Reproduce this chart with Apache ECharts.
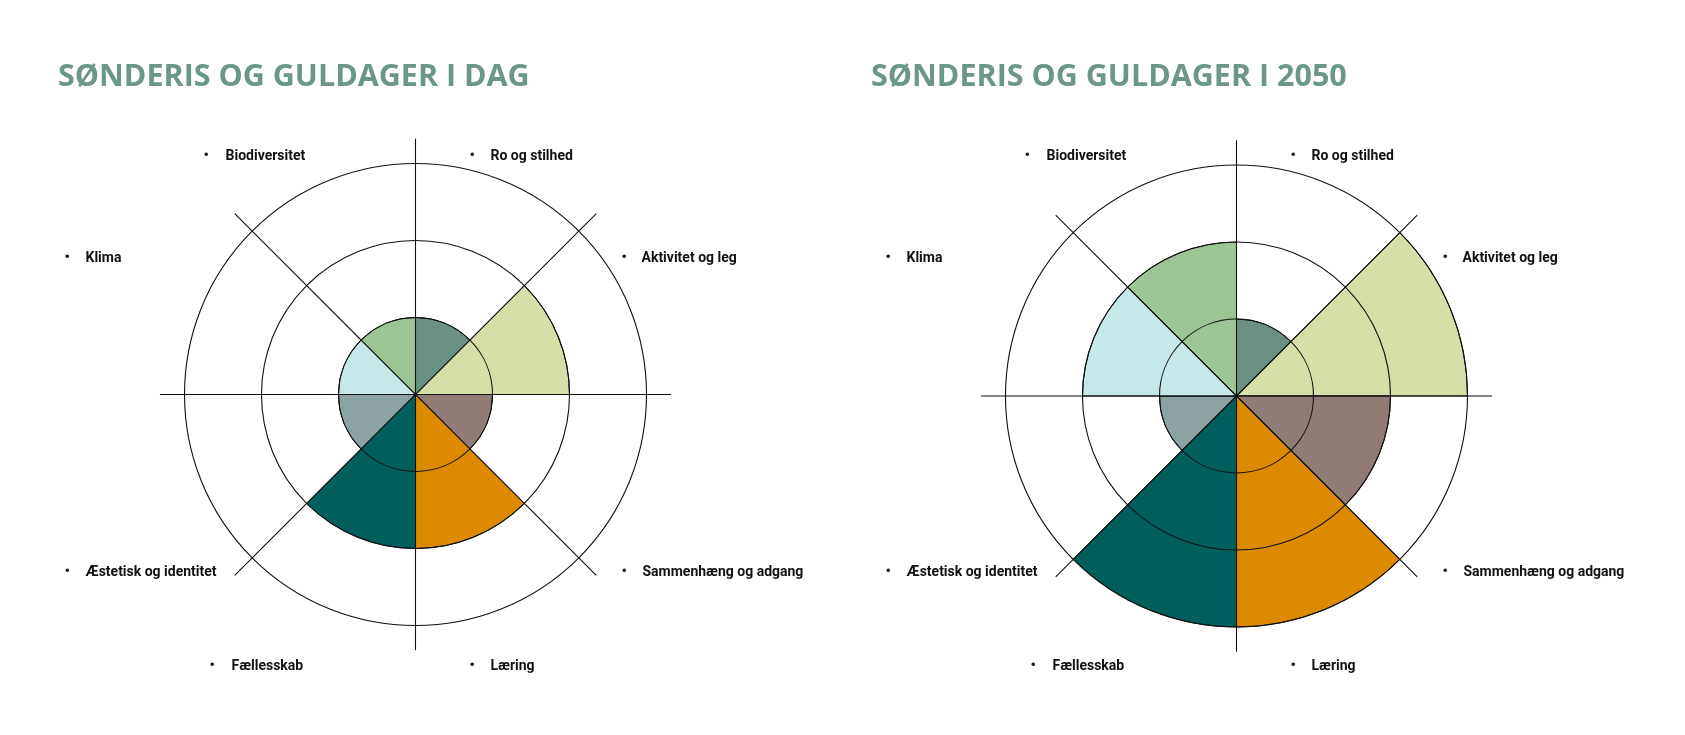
<!DOCTYPE html>
<html lang="da">
<head>
<meta charset="utf-8">
<title>Sønderis og Guldager</title>
<script src="https://cdn.jsdelivr.net/npm/echarts@6/dist/echarts.min.js"></script>
<style>
  html, body { margin: 0; padding: 0; background: #fff; }
  #chart { width: 1685px; height: 735px; }
</style>
</head>
<body>
<div id="chart"></div>
<script>
/* ---- data ---- */
const categories = ["Ro og stilhed", "Aktivitet og leg", "Sammenhæng og adgang", "Læring",
                    "Fællesskab", "Æstetisk og identitet", "Klima", "Biodiversitet"];
const valuesToday = [1, 2, 1, 2, 2, 1, 1, 1];
const values2050  = [1, 3, 2, 3, 3, 1, 2, 2];
const ringMax = 3;
const titles = ["SØNDERIS OG GULDAGER I DAG", "SØNDERIS OG GULDAGER I 2050"];

/* ---- styles / layout ---- */
const sectorColors = ["#6a9183", "#d7dfa9", "#907c74", "#dc8a00",
                      "#005e5c", "#8ba3a3", "#c5e8e8", "#9bc694"];
const lineColor = "#111";
const unitPx = 77;                // px per ring
const spokeUnits = 3.32;          // spokes run a bit past outer ring
const labelRowY = 396;            // both label sets share the same rows
const charts = [
  { cx: 415.5, cy: 394.5, titleX: 58, values: valuesToday, title: titles[0] },
  { cx: 1236.5, cy: 396, titleX: 871, values: values2050, title: titles[1] },
];
// label offsets from the chart centre: [bulletDx, textDx, dy]
const labelOffsets = [
  [54, 75, -240], [206, 226, -138], [206, 227, 176], [54, 75, 270],
  [-206, -184, 270], [-351, -330, 176], [-351, -330, -138], [-212, -190, -240],
];

const polar = [], angleAxis = [], radiusAxis = [], series = [], graphic = [];

charts.forEach((c, k) => {
  const iBar = k * 2, iSpoke = k * 2 + 1;
  polar.push({ center: [c.cx, c.cy], radius: unitPx * ringMax });
  polar.push({ center: [c.cx, c.cy], radius: unitPx * spokeUnits });

  angleAxis.push({
    polarIndex: iBar, type: "category", data: categories, startAngle: 90, clockwise: true,
    axisLine: { show: false }, axisTick: { show: false }, axisLabel: { show: false },
    splitLine: { show: false },
  });
  angleAxis.push({
    polarIndex: iSpoke, type: "category", data: categories, startAngle: 90, clockwise: true, z: 10,
    axisLine: { show: false }, axisTick: { show: false }, axisLabel: { show: false },
    splitLine: { show: true, lineStyle: { color: lineColor, width: 1.1 } },
  });
  radiusAxis.push({
    polarIndex: iBar, type: "value", min: 0, max: ringMax, interval: 1, z: 10,
    axisLine: { show: false }, axisTick: { show: false }, axisLabel: { show: false },
    splitLine: { show: true, lineStyle: { color: lineColor, width: 1.1 } },
  });
  radiusAxis.push({
    polarIndex: iSpoke, type: "value", min: 0, max: spokeUnits, show: false,
    splitLine: { show: false },
  });

  series.push({
    type: "bar", coordinateSystem: "polar", polarIndex: iBar, silent: true,
    barCategoryGap: "0%",
    itemStyle: { borderColor: lineColor, borderWidth: 1 },
    data: c.values.map((v, i) => ({ value: v, itemStyle: { color: sectorColors[i] } })),
  });

  graphic.push({
    type: "text", x: c.titleX, y: 62,
    style: { text: c.title, fill: "#6b978a", font: "700 30.5px 'Open Sans', sans-serif" },
  });

  categories.forEach((name, i) => {
    const [bdx, tdx, dy] = labelOffsets[i];
    graphic.push({
      type: "text", x: c.cx + bdx, y: labelRowY + dy,
      style: { text: "•", fill: "#111", font: "700 15px Roboto, sans-serif", verticalAlign: "middle" },
    });
    graphic.push({
      type: "text", x: c.cx + tdx, y: labelRowY + dy,
      style: { text: name, fill: "#111", font: "700 14px Roboto, sans-serif", verticalAlign: "middle" },
    });
  });
});

const chart = echarts.init(document.getElementById("chart"), null, { renderer: "canvas" });
chart.setOption({
  animation: false,
  backgroundColor: "#fff",
  polar, angleAxis, radiusAxis, series, graphic,
});
</script>
</body>
</html>
